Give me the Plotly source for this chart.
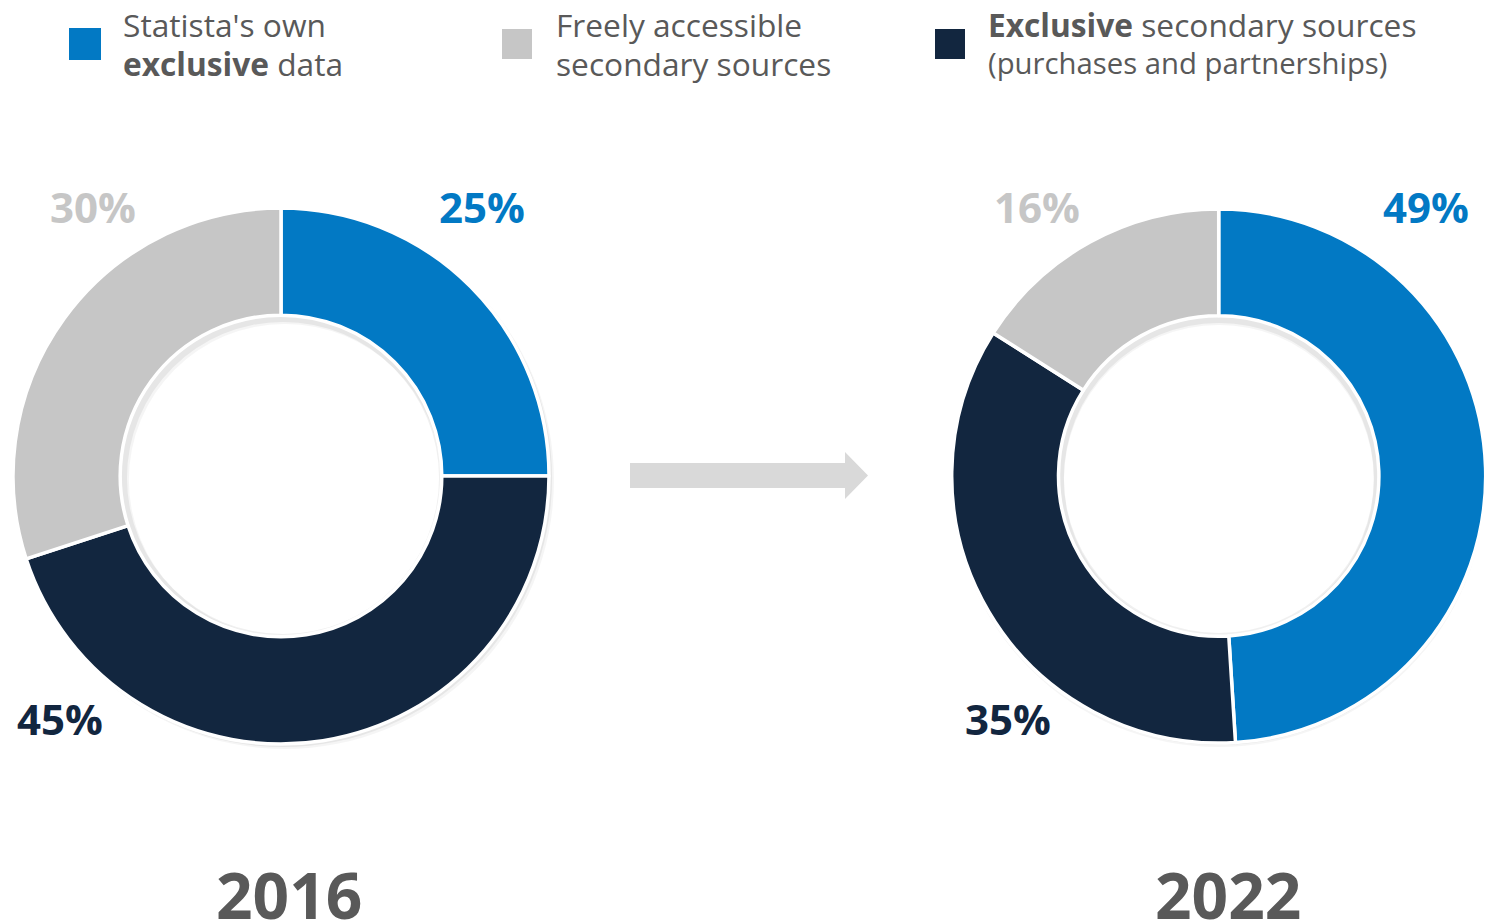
import plotly.graph_objects as go

W, H = 1486, 923

categories = ["Statista's own exclusive data", "Exclusive secondary sources (purchases and partnerships)", "Freely accessible secondary sources"]
values_2016 = [25, 45, 30]
values_2022 = [49, 35, 16]
years = ["2016", "2022"]
colors = ["#0279C4", "#12263F", "#C6C6C6"]

legend_lines = [
    ["Statista's own", "<b>exclusive</b> data"],
    ["Freely accessible", "secondary sources"],
    ["<b>Exclusive</b> secondary sources", "(purchases and partnerships)"],
]
legend_line_sizes = [[31.7, 31.7], [31.7, 31.7], [31.7, 29.3]]
legend_colors = ["#0279C4", "#C6C6C6", "#12263F"]

TEXT = "#595959"
FONT = "Open Sans"

def dom(cx, cy, r):
    r = min(r, cx, W - cx, cy, H - cy)
    return dict(x=[max(0, (cx - r) / W), min(1, (cx + r) / W)],
                y=[max(0, 1 - (cy + r) / H), min(1, 1 - (cy - r) / H)])

fig = go.Figure()

centers = [(281, 476), (1218.7, 476)]
radii = [268, 267]
for (cx, cy), R, vals in zip(centers, radii, [values_2016, values_2022]):
    # soft shadow
    for off, col in [(4, "rgba(0,0,0,0.04)"), (2, "rgba(0,0,0,0.06)")]:
        sx = min(cx + off, W - R - 0.1) if cx + R + off > W else cx + off
        fig.add_trace(go.Pie(
            values=[1], labels=["shadow"], marker=dict(colors=[col], line=dict(width=0)),
            hole=0.58, domain=dom(sx, cy + off, R + 1), textinfo="none",
            hoverinfo="skip", showlegend=False, sort=False))
    fig.add_trace(go.Pie(
        values=vals, labels=categories, marker=dict(colors=colors, line=dict(color="white", width=3.5)),
        hole=0.60, domain=dom(cx, cy, R), textinfo="none", sort=False,
        direction="clockwise", rotation=0, showlegend=False))

# hidden pixel-coordinate axes
fig.update_layout(
    xaxis=dict(range=[0, W], visible=False, domain=[0, 1], fixedrange=True),
    yaxis=dict(range=[H, 0], visible=False, domain=[0, 1], fixedrange=True),
)

# percent labels
label_pos_2016 = [(482, 206), (60, 718), (93, 206)]
label_pos_2022 = [(1426, 206), (1008, 718), (1037, 206)]
for vals, poss in [(values_2016, label_pos_2016), (values_2022, label_pos_2022)]:
    for v, (x, y), c in zip(vals, poss, colors):
        fig.add_annotation(x=x, y=y, xref="x", yref="y", text=f"<b>{v}%</b>", showarrow=False,
                           font=dict(family=FONT, size=42, color=c), xanchor="center", yanchor="middle")

# year labels
for yr, x in zip(years, [289, 1228]):
    fig.add_annotation(x=x, y=894, xref="x", yref="y", text=f"<b>{yr}</b>", showarrow=False,
                       font=dict(family=FONT, size=64, color=TEXT), xanchor="center", yanchor="middle")

# legend
sq = [(69, 28, 32), (502, 29, 30), (935, 29, 30)]
tx = [121, 554, 986]
for (x0, y0, s), lines, sizes, c, lx in zip(sq, legend_lines, legend_line_sizes, legend_colors, tx):
    fig.add_shape(type="rect", x0=x0, y0=y0, x1=x0 + s, y1=y0 + s, xref="x", yref="y",
                  fillcolor=c, line=dict(width=0))
    for ly, t, fs in zip([24, 63], lines, sizes):
        fig.add_annotation(x=lx, y=ly, xref="x", yref="y", text=t, showarrow=False, align="left",
                           font=dict(family=FONT, size=fs, color=TEXT), xanchor="left", yanchor="middle")

# arrow
fig.add_shape(type="path", xref="x", yref="y",
              path="M 630 463 L 845 463 L 845 452 L 868 475.5 L 845 499 L 845 488 L 630 488 Z",
              fillcolor="#D9D9D9", line=dict(width=0))

fig.update_layout(width=W, height=H, margin=dict(l=0, r=0, t=0, b=0),
                  paper_bgcolor="white", plot_bgcolor="rgba(0,0,0,0)",
                  font=dict(family=FONT), showlegend=False)

fig.write_html("out.html", config={"displayModeBar": False},
               post_script="document.body.style.margin='0';document.body.style.overflow='hidden';")
